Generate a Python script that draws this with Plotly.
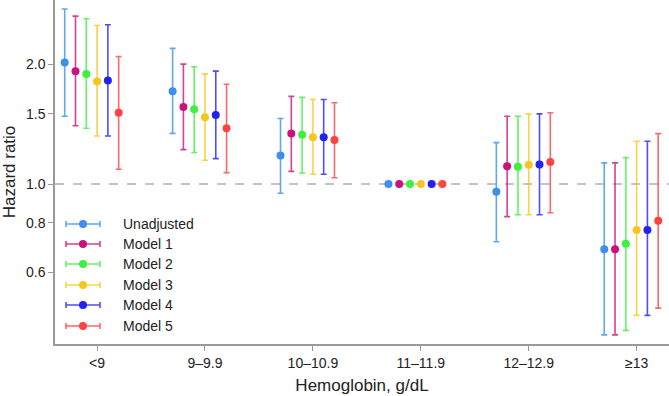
import plotly.graph_objects as go

categories = ["<9", "9–9.9", "10–10.9", "11–11.9", "12–12.9", "≥13"]
series = ["Unadjusted", "Model 1", "Model 2", "Model 3", "Model 4", "Model 5"]
colors = ["#3d8ef2", "#c8147a", "#40ee40", "#f7c61e", "#2222f2", "#ff4242"]
bar_colors = ["rgba(61,142,242,0.8)", "rgba(200,20,122,0.8)", "rgba(64,238,64,0.8)",
              "rgba(247,198,30,0.8)", "rgba(34,34,242,0.8)", "rgba(255,66,66,0.8)"]

hr_unadj = [2.02, 1.71, 1.18, 1.00, 0.956, 0.686]
lo_unadj = [1.48, 1.34, 0.948, 1.00, 0.716, 0.418]
hi_unadj = [2.75, 2.19, 1.46, 1.00, 1.27, 1.13]

hr_m1 = [1.92, 1.56, 1.34, 1.00, 1.108, 0.686]
lo_m1 = [1.40, 1.22, 1.076, 1.00, 0.828, 0.418]
hi_m1 = [2.64, 2.00, 1.66, 1.00, 1.48, 1.13]

hr_m2 = [1.89, 1.54, 1.33, 1.00, 1.105, 0.708]
lo_m2 = [1.38, 1.20, 1.066, 1.00, 0.837, 0.429]
hi_m2 = [2.60, 1.97, 1.65, 1.00, 1.48, 1.165]

hr_m3 = [1.81, 1.47, 1.31, 1.00, 1.118, 0.767]
lo_m3 = [1.32, 1.147, 1.058, 1.00, 0.837, 0.468]
hi_m3 = [2.50, 1.89, 1.63, 1.00, 1.50, 1.28]

hr_m4 = [1.82, 1.49, 1.31, 1.00, 1.12, 0.767]
lo_m4 = [1.32, 1.158, 1.058, 1.00, 0.837, 0.468]
hi_m4 = [2.51, 1.92, 1.63, 1.00, 1.50, 1.28]

hr_m5 = [1.51, 1.38, 1.29, 1.00, 1.136, 0.809]
lo_m5 = [1.089, 1.068, 1.037, 1.00, 0.847, 0.488]
hi_m5 = [2.09, 1.78, 1.60, 1.00, 1.51, 1.338]

hrs = [hr_unadj, hr_m1, hr_m2, hr_m3, hr_m4, hr_m5]
los = [lo_unadj, lo_m1, lo_m2, lo_m3, lo_m4, lo_m5]
his = [hi_unadj, hi_m1, hi_m2, hi_m3, hi_m4, hi_m5]

y_ticks = [0.6, 0.8, 1.0, 1.5, 2.0]
y_ticktext = ["0.6", "0.8", "1.0", "1.5", "2.0"]

FONT = "Liberation Sans, Arial, sans-serif"
W, H = 669, 396
ML, MB = 55, 52
PW, PH = W - ML, H - MB

fig = go.Figure()
for i, name in enumerate(series):
    off = (i - 3) * 0.1
    xs = [k + off for k in range(len(categories))]
    fig.add_trace(go.Scatter(
        x=xs, y=hrs[i], mode="markers", name=name, showlegend=False,
        marker=dict(color=colors[i], size=8),
        error_y=dict(type="data", symmetric=False,
                     array=[h - v for h, v in zip(his[i], hrs[i])],
                     arrayminus=[v - l for v, l in zip(hrs[i], los[i])],
                     color=bar_colors[i], thickness=1.6, width=3),
    ))

# custom legend with horizontal error bars (pixel coordinates on overlay axes)
leg_rows = [224, 244, 264, 285, 305, 326]
for i, name in enumerate(series):
    fig.add_trace(go.Scatter(
        x=[28], y=[leg_rows[i]], xaxis="x2", yaxis="y2", mode="markers",
        showlegend=False, hoverinfo="skip",
        marker=dict(color=colors[i], size=8),
        error_x=dict(type="constant", value=17, color=bar_colors[i], thickness=1.6, width=3),
    ))
    fig.add_annotation(x=66, y=leg_rows[i], xref="x2", yref="y2", text=name,
                       showarrow=False, xanchor="left", yanchor="middle",
                       font=dict(family=FONT, size=14, color="#222"))

fig.add_shape(type="line", xref="paper", yref="y", x0=0, x1=1, y0=1.0, y1=1.0,
              line=dict(color="#888", width=1.2, dash="dash"), layer="below")

fig.update_layout(
    width=W, height=H, margin=dict(l=ML, r=0, t=0, b=MB, autoexpand=False),
    paper_bgcolor="white", plot_bgcolor="white",
    font=dict(family=FONT, size=14, color="#222"),
    xaxis=dict(range=[-0.39, 5.3], tickvals=list(range(len(categories))), ticktext=categories,
               showgrid=False, zeroline=False, showline=True, linecolor="#999", linewidth=1.5,
               ticks="outside", ticklen=5, tickcolor="#999", tickwidth=1.2,
               title=dict(text="Hemoglobin, g/dL", font=dict(size=17), standoff=10)),
    yaxis=dict(type="log", range=[-0.4017, 0.462], tickvals=y_ticks, ticktext=y_ticktext,
               showgrid=False, zeroline=False, showline=True, linecolor="#999", linewidth=1.5,
               ticks="outside", ticklen=5, tickcolor="#999", tickwidth=1.2,
               title=dict(text="Hazard ratio", font=dict(size=17), standoff=6)),
    xaxis2=dict(overlaying="x", range=[0, PW], visible=False, fixedrange=True),
    yaxis2=dict(overlaying="y", range=[PH, 0], visible=False, fixedrange=True),
)

fig.write_html("out.html", config={"displayModeBar": False},
               post_script="document.body.style.margin='0';")
